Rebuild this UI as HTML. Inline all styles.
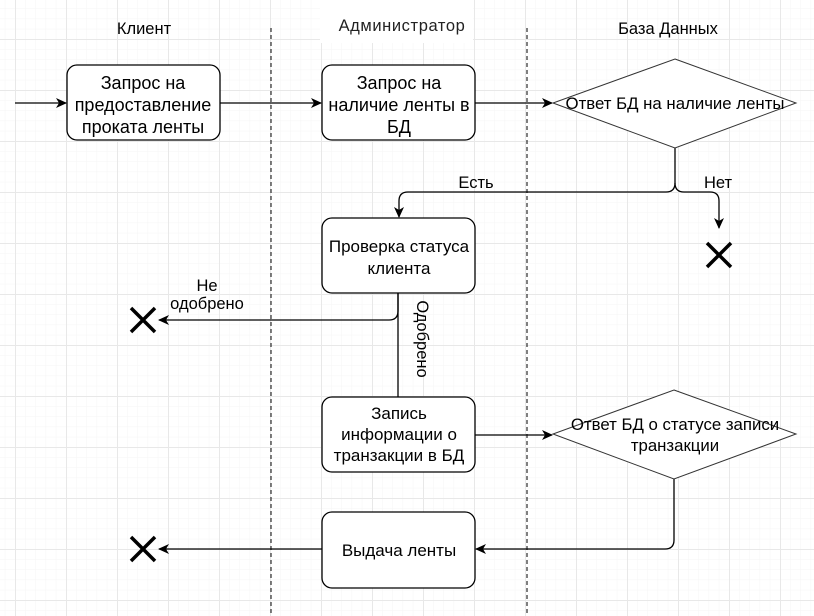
<!DOCTYPE html>
<html><head><meta charset="utf-8"><style>
html,body{margin:0;padding:0;background:#fff;}
svg{display:block;font-family:"Liberation Sans",Arial,sans-serif;}
</style></head><body>
<svg width="814" height="616" viewBox="0 0 814 616" xmlns="http://www.w3.org/2000/svg">
<defs>
<pattern id="minor" x="15" y="39" width="10.2" height="10.2" patternUnits="userSpaceOnUse">
<path d="M0 0V10.2M0 0H10.2" stroke="#f5f5f5" stroke-width="1" fill="none"/>
</pattern>
<pattern id="major" x="15" y="39" width="51" height="51" patternUnits="userSpaceOnUse">
<path d="M0.5 0V51M0 0.5H51" stroke="#e8e8e8" stroke-width="1" fill="none"/>
</pattern>
<marker id="ar" markerWidth="12" markerHeight="10" refX="10" refY="5" orient="auto" markerUnits="userSpaceOnUse">
<path d="M0 0L11 5L0 10L3 5Z" fill="#000"/>
</marker>
</defs>
<rect width="814" height="616" fill="url(#minor)"/>
<rect width="814" height="616" fill="url(#major)"/>

<text x="144" y="34" font-size="16.5" text-anchor="middle">Клиент</text>
<rect x="320" y="0" width="153" height="43" fill="#fff"/>
<text x="402" y="31" font-size="16.5" text-anchor="middle" fill="#222" letter-spacing="0.6">Администратор</text>
<text x="668" y="34" font-size="16.5" text-anchor="middle">База Данных</text>

<line x1="271" y1="28" x2="271" y2="616" stroke="#000" stroke-dasharray="4,3"/>
<line x1="527" y1="28" x2="527" y2="616" stroke="#000" stroke-dasharray="4,3"/>

<g stroke="#000" stroke-width="1.3" fill="none">
<line x1="15" y1="103" x2="66" y2="103" marker-end="url(#ar)"/>
<line x1="220" y1="103" x2="321" y2="103" marker-end="url(#ar)"/>
<line x1="475" y1="103" x2="552" y2="103" marker-end="url(#ar)"/>
<path d="M675 148V183Q675 192 666 192H408Q399 192 399 201V217" marker-end="url(#ar)"/>
<path d="M675 183Q675 192 684 192H710Q719 192 719 201V228" marker-end="url(#ar)"/>
<path d="M398 293V311Q398 320 389 320H159" marker-end="url(#ar)"/>
<line x1="398" y1="293" x2="398" y2="397"/>
<line x1="475" y1="435" x2="552" y2="435" marker-end="url(#ar)"/>
<path d="M674 479V540Q674 549 665 549H476" marker-end="url(#ar)"/>
<line x1="322" y1="549" x2="159" y2="549" marker-end="url(#ar)"/>
</g>

<g stroke="#000" stroke-width="1.3" fill="#fff">
<rect x="67" y="65" width="153" height="75" rx="10"/>
<rect x="322" y="65" width="153" height="75" rx="10"/>
<rect x="322" y="218" width="153" height="75" rx="10"/>
<rect x="322" y="397" width="153" height="75" rx="10"/>
<rect x="322" y="512" width="153" height="76" rx="10"/>
</g>
<g stroke="#333" stroke-width="1" fill="#fff">
<polygon points="675,59 796,103 675,148 553,103"/>
<polygon points="674,390 796,434 674,479 553,434"/>
</g>

<g stroke="#000" stroke-width="3.5">
<path d="M707 243L731 267M731 243L707 267"/>
<path d="M131 308L155 332M155 308L131 332"/>
<path d="M131 537L155 561M155 537L131 561"/>
</g>

<g font-size="18" text-anchor="middle" fill="#000">
<text x="143" y="89">Запрос на</text>
<text x="143" y="111">предоставление</text>
<text x="143" y="133">проката ленты</text>
<text x="399" y="89">Запрос на</text>
<text x="399" y="111">наличие ленты в</text>
<text x="399" y="133">БД</text>
<text x="675" y="109" font-size="16.8">Ответ БД на наличие ленты</text>
<text x="399" y="252" font-size="17">Проверка статуса</text>
<text x="399" y="274" font-size="17">клиента</text>
<text x="399" y="419" font-size="17">Запись</text>
<text x="399" y="440" font-size="17">информации о</text>
<text x="399" y="461" font-size="17">транзакции в БД</text>
<text x="675" y="430" font-size="16.8">Ответ БД о статусе записи</text>
<text x="675" y="451" font-size="16.8">транзакции</text>
<text x="399" y="556" font-size="17">Выдача ленты</text>
</g>

<g font-size="16.5" fill="#000">
<text x="476" y="188" text-anchor="middle">Есть</text>
<text x="718" y="188" text-anchor="middle">Нет</text>
<text x="207" y="291" text-anchor="middle">Не</text>
<text x="207" y="309" text-anchor="middle">одобрено</text>
<text x="0" y="0" text-anchor="middle" transform="translate(417 339) rotate(90)">Одобрено</text>
</g>
</svg>
</body></html>
